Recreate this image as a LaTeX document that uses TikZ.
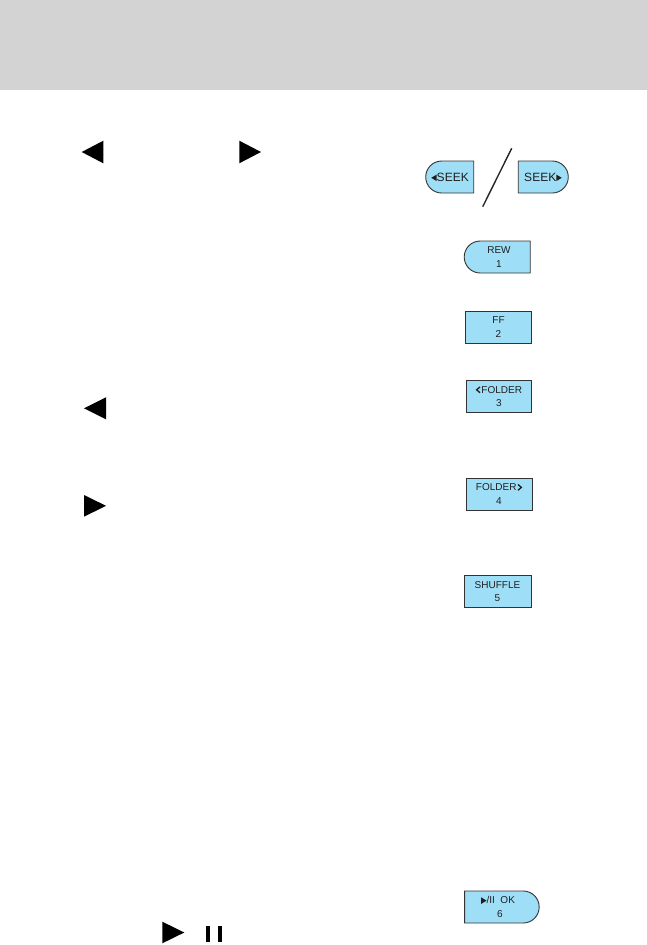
\documentclass[tikz,border=0pt]{standalone}
\usepackage{fontspec}
\setmainfont{Liberation Sans}
\usetikzlibrary{shapes.misc}
\definecolor{hdrgray}{HTML}{D3D3D3}
\definecolor{btnblue}{HTML}{9EDFF7}
\definecolor{btnline}{HTML}{333333}
\newcommand{\tril}{\tikz[x=1pt,y=1pt,baseline=0pt]\fill (0,3.3) -- (5.5,6.6) -- (5.5,0) -- cycle;}
\newcommand{\trir}{\tikz[x=1pt,y=1pt,baseline=0pt]\fill (5.5,3.3) -- (0,6.6) -- (0,0) -- cycle;}
\newcommand{\chevl}{\tikz[x=1pt,y=1pt,baseline=0pt]\draw[line width=1.3pt] (4,6.4) -- (0.6,3.5) -- (4,0.6);\hspace{0.8pt}}
\newcommand{\chevr}{\hspace{0.8pt}\tikz[x=1pt,y=1pt,baseline=0pt]\draw[line width=1.3pt] (0.6,6.4) -- (4,3.5) -- (0.6,0.6);}
\tikzset{
  btn/.style={draw=btnline, fill=btnblue, line width=0.9pt, inner sep=0pt,
    minimum height=32pt, font=\fontsize{10}{13.3}\selectfont, align=center, text=black!88},
  btnrect/.style={btn, rectangle},
  btnleft/.style={btn, rounded rectangle, rounded rectangle right arc=none},
  btnright/.style={btn, rounded rectangle, rounded rectangle left arc=none},
  seekfont/.style={font=\fontsize{12}{14}\selectfont},
  bigtri/.style={fill=black}
}
\begin{document}
\begin{tikzpicture}[x=1pt,y=-1pt]
\useasboundingbox (0,0) rectangle (647,945);
\fill[hdrgray] (0,0) rectangle (647,90);

% big triangles
\fill[bigtri] (81.7,152) -- (103.3,140.7) -- (103.3,163.3) -- cycle;
\fill[bigtri] (261,152) -- (239.3,140.7) -- (239.3,163.3) -- cycle;
\fill[bigtri] (84,408.3) -- (106,397.3) -- (106,419.3) -- cycle;
\fill[bigtri] (106,505.8) -- (84,495) -- (84,516.7) -- cycle;
\fill[bigtri] (184.3,932.5) -- (162.3,921.7) -- (162.3,943.3) -- cycle;
\fill[bigtri] (206,926) rectangle (209.5,941.7);
\fill[bigtri] (217.9,926) rectangle (221.5,941.7);

% SEEK buttons
\node[btnleft, seekfont, minimum width=48pt] (seekl) at (450,177) {\tril SEEK};
\node[btnright, seekfont, minimum width=50pt] (seekr) at (543,177) {SEEK\trir};
\coordinate (slA) at (511.7,148.3);
\coordinate (slB) at (482.7,206.7);
\draw[line width=1.4pt, black!85] (slA) -- (slB);

% other buttons
\node[btnleft, minimum width=66pt] (rew) at (499,257) {REW\\1};
\node[btnrect, minimum width=65.5pt] (ff) at (498.5,327) {FF\\2};
\node[btnrect, minimum width=65.5pt] (f3) at (499,396.5) {\chevl FOLDER\\3};
\node[btnrect, minimum width=66pt] (f4) at (499,494) {FOLDER\chevr\\4};
\node[btnrect, minimum width=67pt] (shuf) at (497.5,591.5) {SHUFFLE\\5};
\node[btnright, minimum width=74.6pt] (play) at (500,907) {\hspace*{-4pt}\trir/II\ \ OK\\6};
\end{tikzpicture}
\end{document}
